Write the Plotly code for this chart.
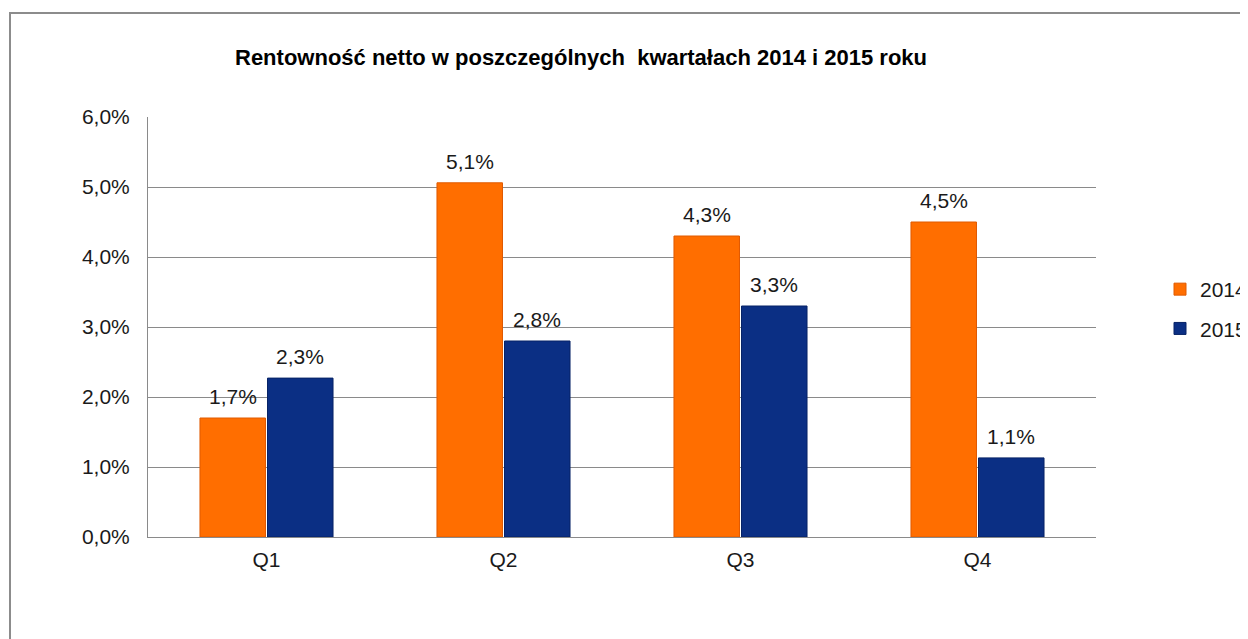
import plotly.graph_objects as go

categories = ["Q1", "Q2", "Q3", "Q4"]
series_2014 = [0.017, 0.0506, 0.043, 0.045]
series_2015 = [0.0227, 0.028, 0.033, 0.0113]
series_names = ["2014", "2015"]
y_ticks = [0, 0.01, 0.02, 0.03, 0.04, 0.05, 0.06]
title_text = "Rentowność netto w poszczególnych  kwartałach 2014 i 2015 roku"

# page has an 8px body margin, so the figure is laid out in page coords - 8
OFF = 8
W, H = 1240, 631
L, R, T, B = 140, 152, 109, 102
pw, ph = W - L - R, H - T - B

font_family = "Liberation Sans, Arial, sans-serif"
text_color = "#1a1a1a"
FS = 21
BARGAP = 0.43
BARGROUPGAP = 0.03

colors = ["#FF6E00", "#0B2F84"]
edges = ["#E05A00", "#072366"]

fig = go.Figure()
for k, (name, vals) in enumerate(zip(series_names, [series_2014, series_2015])):
    fig.add_trace(go.Bar(
        x=categories, y=vals, name=name, legendgroup=name,
        marker=dict(color=colors[k], line=dict(color=edges[k], width=1)),
        hoverinfo="x+y",
    ))

# value labels above bars (offset derived from bar layout)
slot = (1 - BARGAP) / 2
for k, vals in enumerate([series_2014, series_2015]):
    dx = (k - 0.5) * slot
    for i, v in enumerate(vals):
        fig.add_annotation(
            x=i + dx, y=v, xref="x", yref="y",
            text=f"{v * 100:.1f}%".replace(".", ","),
            showarrow=False, yanchor="bottom", yshift=8,
            font=dict(size=FS, color=text_color, family=font_family),
        )


def px_x(p):
    return (p - OFF - L) / pw


def px_y(p):
    return (H - B - (p - OFF)) / ph


# outer chart border
fig.add_shape(type="rect", xref="paper", yref="paper",
              x0=px_x(10), y0=px_y(13), x1=px_x(1300), y1=px_y(700),
              line=dict(color="#8c8c8c", width=2), fillcolor="rgba(0,0,0,0)", layer="below")

fig.update_layout(
    width=W, height=H,
    margin=dict(l=L, r=R, t=T, b=B, autoexpand=False),
    paper_bgcolor="white", plot_bgcolor="white",
    separators=", ",
    barmode="group", bargap=BARGAP, bargroupgap=BARGROUPGAP,
    font=dict(family=font_family, size=FS, color=text_color),
    title=dict(text="<b>" + title_text + "</b>", x=(581 - OFF) / W, xanchor="center",
               y=1 - (57 - OFF) / H, yanchor="middle",
               font=dict(size=22, color="#000000", family=font_family)),
    legend=dict(x=px_x(1160), y=px_y(309), xanchor="left", yanchor="middle",
                font=dict(size=FS, color=text_color), itemwidth=30,
                tracegroupgap=9, bgcolor="rgba(0,0,0,0)"),
    showlegend=True,
)
fig.update_yaxes(range=[0, 0.06], tickvals=y_ticks, tickformat=".1%",
                 showgrid=True, gridcolor="#8a8a8a", gridwidth=1,
                 showline=True, linecolor="#8a8a8a", linewidth=1,
                 zeroline=False, ticks="",
                 tickfont=dict(size=FS, color=text_color), ticklabelstandoff=13)
fig.update_xaxes(showline=True, linecolor="#8a8a8a", linewidth=1,
                 ticks="", tickfont=dict(size=FS, color=text_color), ticklabelstandoff=4)

fig.write_html("out.html")
